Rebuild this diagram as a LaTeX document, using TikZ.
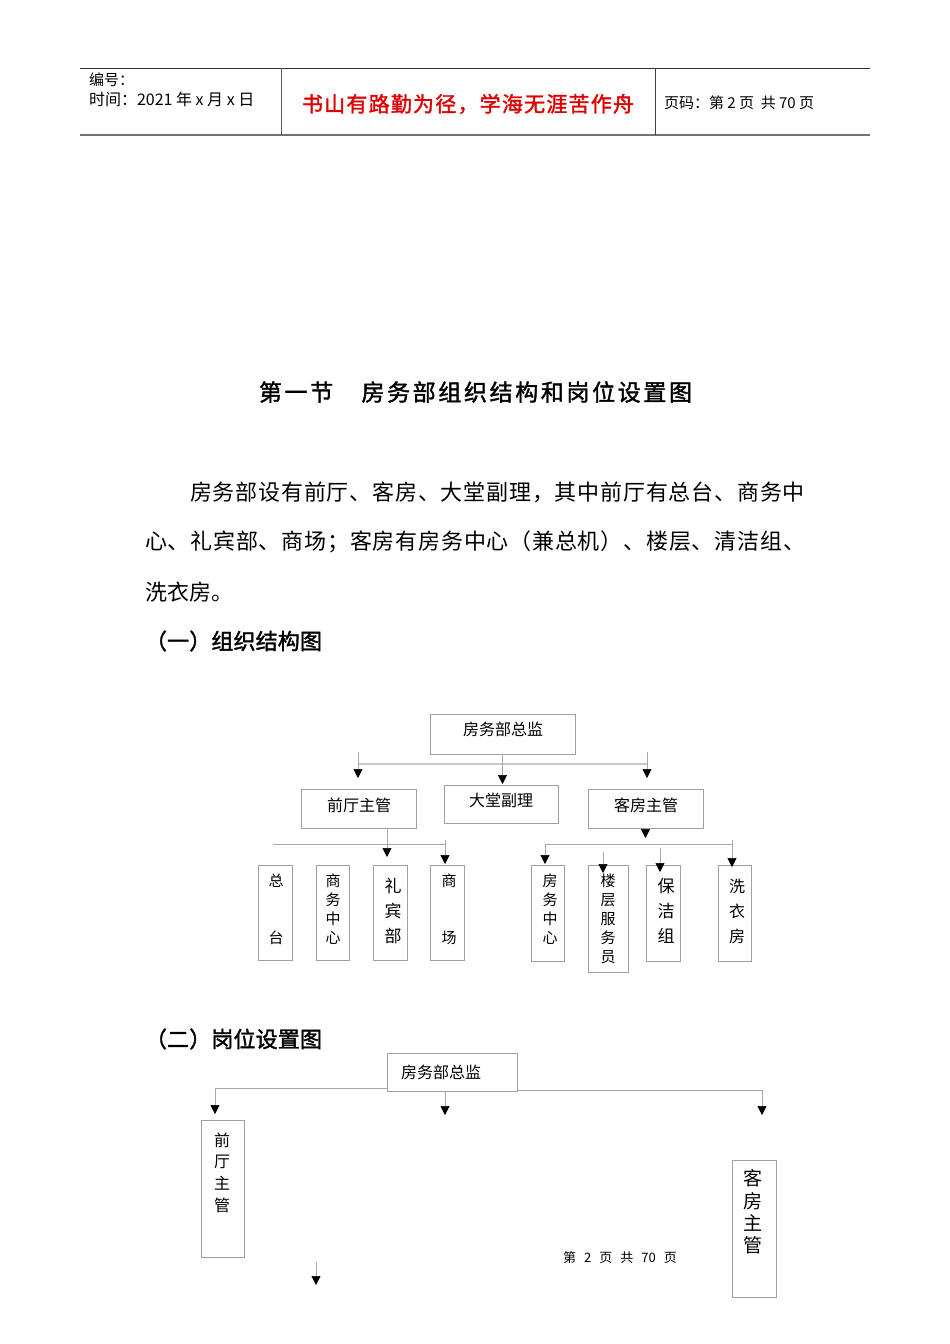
\documentclass[tikz,border=0pt]{standalone}
\usepackage{fontspec}
\setmainfont{Noto Sans CJK SC}
\newfontfamily\boldcjk[FakeBold=1.6]{Noto Sans CJK SC}
\usetikzlibrary{arrows.meta}
\definecolor{boxgray}{HTML}{A0A0A0}
\definecolor{linegray}{HTML}{A8A8A8}
\definecolor{hlgray}{HTML}{C8C8C8}
\definecolor{redtxt}{HTML}{E00000}
\ExplSyntaxOn
\NewDocumentCommand\spr{mm}{\hbox~to~#1{\tl_map_inline:nn{#2}{##1\hfil}\unskip}}
\ExplSyntaxOff
\newcommand\fsz[2]{\fontsize{#1}{#2}\selectfont}
\newcommand\bx[5]{\node[box,minimum width={(#4-#2)*1pt},minimum height={(#5-#3)*1pt}] (#1) at (#2,#3) {};}
\tikzset{
  box/.style={draw=boxgray,line width=0.8pt,inner sep=0pt,outer sep=0pt,anchor=north west},
  txt/.style={inner sep=0pt,outer sep=0pt},
  vtxt/.style={inner sep=0pt,align=center},
  arr/.style={draw=linegray,line width=0.7pt,-{Triangle[width=9pt,length=9pt,color=black,fill=black]}},
  hline/.style={draw=linegray,line width=0.8pt},
  thickhl/.style={draw=hlgray,line width=2pt}
}
\begin{document}
\begin{tikzpicture}[x=1pt,y=-1pt]
\useasboundingbox[fill=white] (0,0) rectangle (950,1344);
% ---------- header ----------
\coordinate (htl) at (80,68);  \coordinate (htr) at (870,68);
\coordinate (hbl) at (80,135); \coordinate (hbr) at (870,135);
\coordinate (s1t) at (281,68); \coordinate (s1b) at (281,135);
\coordinate (s2t) at (655,68); \coordinate (s2b) at (655,135);
\draw[line width=0.8pt,black!80] (htl) -- (htr);
\draw[line width=1.6pt,black!55] (hbl) -- (hbr);
\draw[line width=0.9pt,black!65] (s1t) -- (s1b);
\draw[line width=0.9pt,black!75] (s2t) -- (s2b);
\node[txt,anchor=west,font=\fsz{15}{15}] (bh) at (89,80) {编号：};
\node[txt,anchor=west,font=\fsz{16}{16}] (sj) at (89,99) {时间：2021 年 x 月 x 日};
\node[txt,anchor=west,font=\boldcjk\fsz{21}{21},text=redtxt] (motto) at (302,104) {\spr{332pt}{书山有路勤为径，学海无涯苦作舟}};
\node[txt,anchor=west,font=\fsz{15}{15}] (ym) at (664,103) {页码：第 2 页\ \ 共 70\ 页};
% ---------- title and paragraph ----------
\node[txt,anchor=west,font=\boldcjk\fsz{23}{23}] (title) at (259,392) {\spr{433pt}{第一节　房务部组织结构和岗位设置图}};
\node[txt,anchor=west,font=\fsz{22}{22}] (p1) at (190,492) {\spr{615pt}{房务部设有前厅、客房、大堂副理，其中前厅有总台、商务中}};
\node[txt,anchor=west,font=\fsz{22}{22}] (p2) at (145,542) {\spr{660pt}{心、礼宾部、商场；客房有房务中心（兼总机）、楼层、清洁组、}};
\node[txt,anchor=west,font=\fsz{22}{22}] (p3) at (145,592) {\spr{88pt}{洗衣房。}};
\node[txt,anchor=west,font=\boldcjk\fsz{22}{22}] (h1) at (145,641) {\spr{177pt}{（一）组织结构图}};
\node[txt,anchor=west,font=\boldcjk\fsz{22}{22}] (h2) at (145,1039) {\spr{177pt}{（二）岗位设置图}};
% ---------- chart 1 ----------
\bx{zj1}{430}{714}{575}{754}
\node[txt,font=\fsz{16}{16}] (zj1t) at (503,729) {房务部总监};
\bx{qt}{301}{789}{416}{828}
\node[txt,font=\fsz{16}{16}] (qtt) at (359,805) {前厅主管};
\bx{dt}{444}{785}{558}{823}
\node[txt,font=\fsz{16}{16}] (dtt) at (501,800) {大堂副理};
\bx{kf}{588}{789}{703}{828}
\node[txt,font=\fsz{16}{16}] (kft) at (646,805) {客房主管};
% top connectors
\coordinate (l1a) at (358,764); \coordinate (l1b) at (647,764);
\draw[thickhl] (l1a) -- (l1b);
\coordinate (a1s) at (358,752); \coordinate (a1e) at (358,778);
\coordinate (a2e) at (502.5,784);
\coordinate (a3s) at (647,752); \coordinate (a3e) at (647,778);
\draw[arr] (a1s) -- (a1e);
\draw[arr] (zj1.south) -- (a2e);
\draw[arr] (a3s) -- (a3e);
% bottom boxes
\bx{zt}{258}{865}{292}{960}
\node[vtxt,font=\fsz{15}{19}] (ztt) at (276,909.5) {总\\[38pt]台};
\bx{sw}{316}{865}{349}{960}
\node[vtxt,font=\fsz{15}{19}] (swt) at (333,909.5) {商\\务\\中\\心};
\bx{lb}{373}{865}{407}{960}
\node[vtxt,font=\fsz{17}{25}] (lbt) at (393,911) {礼\\宾\\部};
\bx{sc}{430}{865}{464}{960}
\node[vtxt,font=\fsz{15}{19}] (sct) at (449,909.5) {商\\[38pt]场};
\bx{fw}{531}{865}{564}{961}
\node[vtxt,font=\fsz{15}{19}] (fwt) at (550,909.5) {房\\务\\中\\心};
\bx{lc}{588}{865}{628}{972}
\node[vtxt,font=\fsz{15}{19}] (lct) at (608,919) {楼\\层\\服\\务\\员};
\bx{bj}{646}{865}{680}{961}
\node[vtxt,font=\fsz{17}{25}] (bjt) at (666,911) {保\\洁\\组};
\bx{xy}{718}{865}{751}{961}
\node[vtxt,font=\fsz{16}{25}] (xyt) at (737,911) {洗\\衣\\房};
% left branch
\coordinate (lh1) at (273,844); \coordinate (lh2) at (445,844);
\draw[hline] (lh1) -- (lh2);
\coordinate (b1e) at (387,857);
\draw[arr] (b1e |- qt.south) -- (b1e);
\coordinate (b2s) at (445,840); \coordinate (b2e) at (445,864);
\draw[arr] (b2s) -- (b2e);
% right branch
\coordinate (kfe) at (645.5,838);
\draw[arr] (kf.south) -- (kfe);
\coordinate (rh1) at (545,844); \coordinate (rh2) at (732,844);
\draw[hline] (rh1) -- (rh2);
\coordinate (c1s) at (545,844); \coordinate (c1e) at (545,864);
\coordinate (c2s) at (603,852); \coordinate (c2e) at (603,873);
\coordinate (c3s) at (660,848); \coordinate (c3e) at (660,872);
\coordinate (c4s) at (732,840); \coordinate (c4e) at (732,867);
\draw[arr] (c1s) -- (c1e);
\draw[arr] (c2s) -- (c2e);
\draw[arr] (c3s) -- (c3e);
\draw[arr] (c4s) -- (c4e);
% ---------- chart 2 ----------
\bx{zj2}{387}{1053}{517}{1091}
\node[txt,font=\fsz{16}{16}] (zj2t) at (441,1072) {房务部总监};
\coordinate (m1) at (215,1088); \coordinate (m2) at (387,1088);
\coordinate (m3) at (517,1090); \coordinate (m4) at (762,1090);
\draw[hline] (m1) -- (m2);
\draw[hline] (m3) -- (m4);
\coordinate (d1e) at (215,1114);
\coordinate (d2s) at (445,1091); \coordinate (d2e) at (445,1115);
\coordinate (d3e) at (762,1115);
\draw[arr] (m1) -- (d1e);
\draw[arr] (d2s) -- (d2e);
\draw[arr] (m4) -- (d3e);
\bx{qt2}{201}{1120}{244}{1257}
\node[vtxt,font=\fsz{16}{21.7}] (qt2t) at (222,1172.5) {前\\厅\\主\\管};
\bx{kf2}{732}{1160}{776}{1297}
\node[vtxt,font=\fsz{19}{22.3}] (kf2t) at (753,1212) {客\\房\\主\\管};
\coordinate (e1s) at (316,1262); \coordinate (e1e) at (316,1285);
\draw[arr] (e1s) -- (e1e);
% footer
\node[txt,font=\fsz{13}{13}] (foot) at (620,1258) {第\hspace{8pt}2\hspace{8pt}页\hspace{8pt}共\hspace{8pt}70\hspace{8pt}页};
\end{tikzpicture}
\end{document}
